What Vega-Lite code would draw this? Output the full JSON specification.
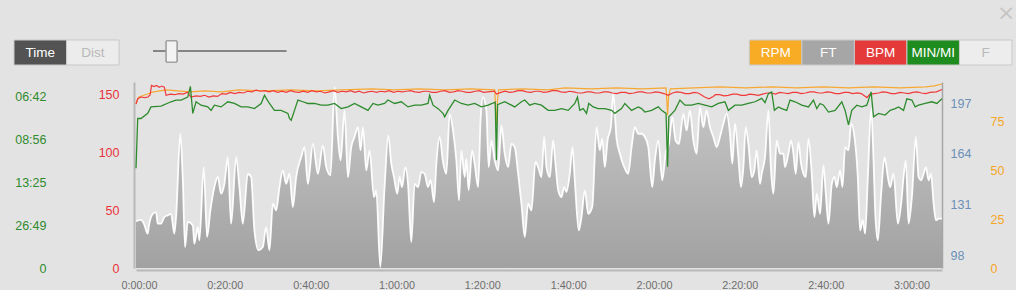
{
"$schema": "https://vega.github.io/schema/vega-lite/v6.json",
"background": "#e4e3e3",
"padding": {"left": 13, "top": 2, "right": 0, "bottom": 0},
"title": {"text": "×", "anchor": "end", "fontSize": 22, "color": "#c6c6c6", "fontWeight": "normal", "font": "DejaVu Sans", "offset": 14, "dx": 3},
"spacing": 15,
"config": {"font": "Liberation Sans", "view": {"stroke": null}},
"resolve": {"scale": {"x": "independent", "y": "independent", "color": "independent"}},
"datasets": {
"buttons": [{"button":"Time"},{"button":"Dist"},{"button":"RPM"},{"button":"FT"},{"button":"BPM"},{"button":"MIN/MI"},{"button":"F"}],
"elevation": [
{"min":0,"ft":120.6},{"min":1.17,"ft":121.3},{"min":1.87,"ft":118.7},{"min":2.73,"ft":112.4},{"min":3.03,"ft":118.0},{"min":3.9,"ft":125.3},{"min":4.67,"ft":126.4},{"min":5.06,"ft":118.9},{"min":5.83,"ft":118.9},{"min":6.6,"ft":123.2},{"min":7.39,"ft":124.3},{"min":8.16,"ft":125.3},{"min":8.93,"ft":112.4},{"min":9.33,"ft":123.2},{"min":10.33,"ft":177.1},{"min":10.89,"ft":149.1},{"min":11.43,"ft":103.8},{"min":12.06,"ft":120.0},{"min":13.23,"ft":117.8},{"min":13.6,"ft":105.9},{"min":14.39,"ft":116.7},{"min":14.77,"ft":108.1},{"min":15.79,"ft":155.5},{"min":16.56,"ft":110.3},{"min":17.33,"ft":127.5},{"min":18.26,"ft":142.6},{"min":19.06,"ft":149.1},{"min":19.83,"ft":138.3},{"min":20.6,"ft":144.7},{"min":21.39,"ft":162.0},{"min":22.16,"ft":118.9},{"min":23.33,"ft":162.0},{"min":24.1,"ft":142.6},{"min":24.89,"ft":118.9},{"min":26.06,"ft":151.2},{"min":26.83,"ft":149.1},{"min":27.59,"ft":114.6},{"min":28.53,"ft":101.7},{"min":29.55,"ft":103.8},{"min":30.32,"ft":116.7},{"min":31.09,"ft":101.7},{"min":31.89,"ft":131.8},{"min":32.66,"ft":127.5},{"min":33.43,"ft":142.6},{"min":34.22,"ft":153.4},{"min":34.99,"ft":144.7},{"min":35.76,"ft":151.2},{"min":36.55,"ft":129.7},{"min":37.32,"ft":149.1},{"min":38.49,"ft":162.0},{"min":39.26,"ft":168.5},{"min":40.05,"ft":144.7},{"min":41.22,"ft":170.6},{"min":42.38,"ft":151.2},{"min":43.55,"ft":169.6},{"min":44.32,"ft":155.5},{"min":45.32,"ft":150.2},{"min":46.26,"ft":207.3},{"min":47.05,"ft":175.0},{"min":47.66,"ft":159.9},{"min":48.59,"ft":192.2},{"min":49.38,"ft":149.1},{"min":50.15,"ft":168.5},{"min":50.92,"ft":175.0},{"min":51.71,"ft":181.4},{"min":52.32,"ft":166.4},{"min":52.88,"ft":181.4},{"min":53.65,"ft":153.4},{"min":54.42,"ft":166.4},{"min":55.45,"ft":136.1},{"min":55.98,"ft":140.5},{"min":56.92,"ft":90.8},{"min":57.92,"ft":142.6},{"min":58.78,"ft":176.1},{"min":59.48,"ft":157.7},{"min":60.11,"ft":149.1},{"min":60.88,"ft":138.3},{"min":61.42,"ft":149.1},{"min":61.98,"ft":142.6},{"min":62.75,"ft":155.5},{"min":63.38,"ft":144.7},{"min":64.15,"ft":107.0},{"min":64.92,"ft":144.7},{"min":65.71,"ft":142.6},{"min":66.48,"ft":152.3},{"min":67.25,"ft":151.2},{"min":68.04,"ft":142.6},{"min":68.65,"ft":147.0},{"min":69.44,"ft":132.9},{"min":69.98,"ft":157.7},{"min":70.75,"ft":175.0},{"min":71.54,"ft":158.8},{"min":72.31,"ft":151.2},{"min":73.08,"ft":190.0},{"min":73.87,"ft":179.3},{"min":74.64,"ft":159.9},{"min":75.27,"ft":134.0},{"min":75.81,"ft":166.4},{"min":76.58,"ft":149.1},{"min":76.98,"ft":160.9},{"min":77.51,"ft":140.5},{"min":78.31,"ft":166.4},{"min":78.91,"ft":157.7},{"min":79.71,"ft":142.6},{"min":80.31,"ft":187.9},{"min":80.87,"ft":200.8},{"min":81.64,"ft":192.2},{"min":82.18,"ft":155.5},{"min":82.81,"ft":172.8},{"min":83.58,"ft":159.9},{"min":84.37,"ft":153.4},{"min":85.14,"ft":182.5},{"min":85.91,"ft":164.2},{"min":86.7,"ft":155.5},{"min":87.47,"ft":170.6},{"min":88.24,"ft":168.5},{"min":89.04,"ft":151.2},{"min":89.81,"ft":131.8},{"min":90.58,"ft":110.3},{"min":91.37,"ft":131.8},{"min":92.14,"ft":127.5},{"min":93.07,"ft":158.8},{"min":93.7,"ft":155.5},{"min":94.47,"ft":149.1},{"min":95.1,"ft":175.0},{"min":95.64,"ft":155.5},{"min":96.41,"ft":149.1},{"min":97.2,"ft":172.8},{"min":97.74,"ft":157.7},{"min":98.37,"ft":140.5},{"min":99.14,"ft":136.1},{"min":99.77,"ft":142.6},{"min":100.3,"ft":139.4},{"min":101.07,"ft":151.2},{"min":101.7,"ft":168.5},{"min":102.24,"ft":147.0},{"min":103.17,"ft":114.6},{"min":103.8,"ft":123.2},{"min":104.57,"ft":140.5},{"min":105.36,"ft":125.3},{"min":106.3,"ft":129.7},{"min":107.3,"ft":181.4},{"min":108.07,"ft":166.4},{"min":108.63,"ft":173.9},{"min":109.24,"ft":155.5},{"min":109.87,"ft":172.8},{"min":110.64,"ft":181.4},{"min":111.2,"ft":203.0},{"min":111.97,"ft":173.9},{"min":112.74,"ft":164.2},{"min":113.76,"ft":155.5},{"min":114.69,"ft":151.2},{"min":115.47,"ft":168.5},{"min":116.23,"ft":181.4},{"min":117.03,"ft":177.1},{"min":117.8,"ft":177.1},{"min":118.57,"ft":175.0},{"min":119.36,"ft":168.5},{"min":120.29,"ft":142.6},{"min":120.9,"ft":159.9},{"min":121.7,"ft":172.8},{"min":122.63,"ft":147.0},{"min":123.4,"ft":164.2},{"min":124.17,"ft":170.6},{"min":124.96,"ft":187.9},{"min":125.73,"ft":172.8},{"min":126.5,"ft":170.6},{"min":127.53,"ft":190.0},{"min":128.29,"ft":179.3},{"min":129.06,"ft":192.2},{"min":129.86,"ft":172.8},{"min":130.63,"ft":164.2},{"min":131.4,"ft":194.4},{"min":132.19,"ft":181.4},{"min":132.96,"ft":192.2},{"min":133.73,"ft":181.4},{"min":134.52,"ft":175.0},{"min":135.29,"ft":168.5},{"min":136.06,"ft":175.0},{"min":136.85,"ft":183.6},{"min":137.62,"ft":190.0},{"min":138.4,"ft":177.1},{"min":138.95,"ft":157.7},{"min":139.56,"ft":183.6},{"min":140.35,"ft":162.0},{"min":140.96,"ft":142.6},{"min":141.52,"ft":155.5},{"min":142.06,"ft":181.4},{"min":142.69,"ft":170.6},{"min":143.46,"ft":149.1},{"min":144.08,"ft":153.4},{"min":144.62,"ft":166.4},{"min":145.39,"ft":144.7},{"min":145.79,"ft":151.2},{"min":146.56,"ft":162.0},{"min":147.35,"ft":192.2},{"min":147.96,"ft":153.4},{"min":148.52,"ft":138.3},{"min":149.29,"ft":172.8},{"min":150.06,"ft":164.2},{"min":150.85,"ft":164.2},{"min":151.22,"ft":155.5},{"min":152.02,"ft":164.2},{"min":152.62,"ft":172.8},{"min":153.18,"ft":164.2},{"min":153.72,"ft":151.2},{"min":154.35,"ft":171.7},{"min":154.96,"ft":157.7},{"min":155.52,"ft":151.2},{"min":156.06,"ft":149.1},{"min":156.68,"ft":173.9},{"min":157.45,"ft":151.2},{"min":158.08,"ft":123.2},{"min":158.62,"ft":138.3},{"min":159.39,"ft":125.3},{"min":160.18,"ft":156.6},{"min":160.72,"ft":138.3},{"min":161.35,"ft":118.9},{"min":162.12,"ft":144.7},{"min":162.75,"ft":149.1},{"min":163.28,"ft":142.6},{"min":164.05,"ft":153.4},{"min":164.61,"ft":142.6},{"min":165.22,"ft":168.5},{"min":166.01,"ft":166.4},{"min":166.62,"ft":183.6},{"min":167.41,"ft":175.0},{"min":168.18,"ft":149.1},{"min":168.72,"ft":114.6},{"min":169.35,"ft":121.1},{"min":169.89,"ft":112.4},{"min":170.52,"ft":149.1},{"min":171.29,"ft":193.3},{"min":171.85,"ft":159.9},{"min":172.22,"ft":127.5},{"min":172.85,"ft":108.1},{"min":173.62,"ft":138.3},{"min":174.41,"ft":162.0},{"min":175.18,"ft":149.1},{"min":175.72,"ft":142.6},{"min":176.51,"ft":151.2},{"min":177.51,"ft":118.9},{"min":178.28,"ft":131.8},{"min":178.84,"ft":149.1},{"min":179.38,"ft":159.9},{"min":180.01,"ft":118.9},{"min":180.78,"ft":136.1},{"min":181.71,"ft":175.0},{"min":182.34,"ft":149.1},{"min":182.95,"ft":147.0},{"min":183.51,"ft":151.2},{"min":184.05,"ft":155.5},{"min":184.68,"ft":147.0},{"min":185.22,"ft":151.2},{"min":185.85,"ft":131.8},{"min":186.38,"ft":121.1},{"min":187.08,"ft":122.1},{"min":187.78,"ft":122.1}
],
"heart": [
{"min":0,"bpm":142},{"min":0.4,"bpm":146.5},{"min":1.2,"bpm":148},{"min":2,"bpm":147.5},{"min":2.8,"bpm":148},{"min":3.3,"bpm":150},{"min":3.6,"bpm":158},{"min":4.2,"bpm":157},{"min":4.8,"bpm":158},{"min":5.4,"bpm":156.5},{"min":6,"bpm":157.5},{"min":6.6,"bpm":156.5},{"min":7,"bpm":149.5},{"min":8,"bpm":150.5},{"min":9,"bpm":150},{"min":10,"bpm":151},{"min":11,"bpm":150.5},{"min":12,"bpm":152.2},{"min":12.8,"bpm":148},{"min":14,"bpm":149},{"min":15,"bpm":148.5},{"min":16,"bpm":149.5},{"min":17,"bpm":148},{"min":18,"bpm":149},{"min":19,"bpm":148.5},{"min":20,"bpm":151},{"min":21,"bpm":150.5},{"min":22,"bpm":152},{"min":23,"bpm":151},{"min":24,"bpm":152},{"min":25,"bpm":151.5},{"min":26,"bpm":153},{"min":27,"bpm":152.5},{"min":28,"bpm":154},{"min":29,"bpm":153},{"min":30,"bpm":153.5},{"min":31,"bpm":152.5},{"min":32,"bpm":153.5},{"min":33,"bpm":152},{"min":34,"bpm":153},{"min":35,"bpm":152},{"min":36,"bpm":153.5},{"min":37,"bpm":152.5},{"min":38,"bpm":152},{"min":39,"bpm":153},{"min":40,"bpm":152},{"min":41,"bpm":153.5},{"min":42,"bpm":152.5},{"min":43,"bpm":153},{"min":44,"bpm":151.5},{"min":45,"bpm":152.5},{"min":46,"bpm":153.5},{"min":47,"bpm":152},{"min":48,"bpm":153},{"min":49,"bpm":152.5},{"min":50,"bpm":153.5},{"min":51,"bpm":152},{"min":52,"bpm":153},{"min":53,"bpm":151.5},{"min":54,"bpm":152.5},{"min":55,"bpm":153},{"min":56,"bpm":152},{"min":57,"bpm":153},{"min":58,"bpm":152.5},{"min":59,"bpm":153.5},{"min":60,"bpm":152},{"min":61,"bpm":153},{"min":62,"bpm":152.5},{"min":63,"bpm":153},{"min":64,"bpm":153.5},{"min":65,"bpm":152.5},{"min":66,"bpm":152},{"min":67,"bpm":153},{"min":68,"bpm":153},{"min":69,"bpm":152},{"min":70,"bpm":152},{"min":71,"bpm":153},{"min":72,"bpm":153.5},{"min":73,"bpm":152},{"min":74,"bpm":152.5},{"min":75,"bpm":153.5},{"min":76,"bpm":153},{"min":77,"bpm":152},{"min":78,"bpm":152},{"min":79,"bpm":153},{"min":80,"bpm":153.5},{"min":81,"bpm":152},{"min":82,"bpm":152.5},{"min":83.5,"bpm":153},{"min":84,"bpm":150.5},{"min":85,"bpm":152},{"min":86,"bpm":153},{"min":87,"bpm":152},{"min":88,"bpm":152.5},{"min":89,"bpm":153.5},{"min":90,"bpm":153.5},{"min":91,"bpm":152.5},{"min":92,"bpm":152},{"min":93,"bpm":153},{"min":94,"bpm":153},{"min":95,"bpm":152},{"min":96,"bpm":152.5},{"min":97,"bpm":153.5},{"min":98,"bpm":153.5},{"min":99,"bpm":152.5},{"min":100,"bpm":152},{"min":101,"bpm":153},{"min":102,"bpm":152.5},{"min":103,"bpm":151.5},{"min":104,"bpm":151.5},{"min":105,"bpm":152.5},{"min":106,"bpm":152.5},{"min":107,"bpm":151.5},{"min":108,"bpm":151.5},{"min":109,"bpm":152.5},{"min":110,"bpm":152.5},{"min":111,"bpm":151.5},{"min":112,"bpm":151},{"min":113,"bpm":152},{"min":114,"bpm":152},{"min":115,"bpm":151},{"min":116,"bpm":151.5},{"min":117,"bpm":152.5},{"min":118,"bpm":152.5},{"min":119,"bpm":151.5},{"min":120,"bpm":151.5},{"min":121,"bpm":152.5},{"min":122,"bpm":152},{"min":123,"bpm":151},{"min":124,"bpm":149.5},{"min":125,"bpm":151.5},{"min":126,"bpm":152.5},{"min":127,"bpm":152},{"min":128,"bpm":151},{"min":129,"bpm":151},{"min":130,"bpm":152},{"min":131,"bpm":151.5},{"min":132.5,"bpm":148},{"min":133.5,"bpm":146.5},{"min":134.5,"bpm":148.5},{"min":135,"bpm":150},{"min":136,"bpm":150},{"min":137,"bpm":149},{"min":138,"bpm":149.5},{"min":139,"bpm":150.5},{"min":140,"bpm":150.5},{"min":141,"bpm":149.5},{"min":142,"bpm":149.5},{"min":143,"bpm":150.5},{"min":144,"bpm":150},{"min":145,"bpm":149.5},{"min":146,"bpm":150.5},{"min":147,"bpm":151.5},{"min":148,"bpm":151.5},{"min":149,"bpm":150.5},{"min":150,"bpm":152},{"min":151,"bpm":151.5},{"min":152,"bpm":151},{"min":153,"bpm":152},{"min":154,"bpm":152},{"min":155,"bpm":151},{"min":156,"bpm":151.5},{"min":157,"bpm":152.5},{"min":158,"bpm":152.5},{"min":159,"bpm":151.5},{"min":160,"bpm":151.5},{"min":161,"bpm":152.5},{"min":162,"bpm":152},{"min":163,"bpm":151},{"min":164,"bpm":151},{"min":165,"bpm":152},{"min":166,"bpm":152},{"min":167,"bpm":151},{"min":168,"bpm":151.5},{"min":169,"bpm":151},{"min":170.3,"bpm":147.5},{"min":171,"bpm":150.5},{"min":172,"bpm":151},{"min":173,"bpm":151.5},{"min":174,"bpm":152.5},{"min":175,"bpm":152},{"min":176,"bpm":151},{"min":177,"bpm":151},{"min":178,"bpm":152},{"min":179,"bpm":151.5},{"min":180,"bpm":151},{"min":181,"bpm":152},{"min":182,"bpm":152.5},{"min":183,"bpm":151.5},{"min":184,"bpm":151},{"min":185,"bpm":152},{"min":186.5,"bpm":152.5},{"min":187.8,"bpm":154.5}
],
"cadence": [
{"min":0,"rpm":83.8},{"min":0.6,"rpm":87.2},{"min":1.5,"rpm":88},{"min":2.7,"rpm":88.9},{"min":3.8,"rpm":89.8},{"min":7,"rpm":91},{"min":12.5,"rpm":90},{"min":16,"rpm":90.5},{"min":20,"rpm":90},{"min":24,"rpm":91},{"min":30,"rpm":90.5},{"min":36,"rpm":91},{"min":42,"rpm":90.5},{"min":48,"rpm":91},{"min":55,"rpm":91.5},{"min":60,"rpm":91},{"min":66,"rpm":91.5},{"min":72,"rpm":91},{"min":78,"rpm":91.5},{"min":83.6,"rpm":91},{"min":83.8,"rpm":80},{"min":84,"rpm":73},{"min":84.2,"rpm":85},{"min":84.5,"rpm":91},{"min":90,"rpm":91.5},{"min":96,"rpm":91},{"min":100,"rpm":92},{"min":106,"rpm":91.5},{"min":112,"rpm":92},{"min":118,"rpm":91.5},{"min":123.5,"rpm":92},{"min":123.7,"rpm":85},{"min":123.86,"rpm":78},{"min":124.1,"rpm":88},{"min":124.5,"rpm":91.5},{"min":130,"rpm":92},{"min":136,"rpm":92.5},{"min":142,"rpm":92},{"min":148,"rpm":92.5},{"min":154,"rpm":92},{"min":160,"rpm":92.5},{"min":166,"rpm":92},{"min":172,"rpm":92.5},{"min":178,"rpm":92},{"min":184,"rpm":92.5},{"min":186,"rpm":93},{"min":187.8,"rpm":94}
],
"pace": [
{"min":0,"mps":2.32},{"min":0.4,"mps":3.48},{"min":1.17,"mps":3.48},{"min":2.73,"mps":3.6},{"min":3.5,"mps":3.75},{"min":5.83,"mps":3.77},{"min":8.16,"mps":3.87},{"min":9.33,"mps":3.91},{"min":10.5,"mps":3.91},{"min":12.06,"mps":3.98},{"min":12.67,"mps":4.23},{"min":13.23,"mps":3.6},{"min":14.0,"mps":3.87},{"min":15.16,"mps":3.79},{"min":16.72,"mps":3.75},{"min":17.49,"mps":3.67},{"min":18.26,"mps":3.79},{"min":19.83,"mps":3.75},{"min":21.39,"mps":3.87},{"min":22.93,"mps":3.83},{"min":24.49,"mps":3.75},{"min":26.06,"mps":3.75},{"min":27.59,"mps":3.71},{"min":29.16,"mps":3.83},{"min":29.93,"mps":4.02},{"min":31.09,"mps":3.83},{"min":32.26,"mps":3.67},{"min":33.82,"mps":3.67},{"min":35.39,"mps":3.6},{"min":35.76,"mps":3.48},{"min":36.16,"mps":3.44},{"min":36.93,"mps":3.67},{"min":37.72,"mps":3.91},{"min":38.88,"mps":3.87},{"min":40.05,"mps":3.83},{"min":41.59,"mps":3.83},{"min":43.15,"mps":3.79},{"min":44.72,"mps":3.79},{"min":46.26,"mps":3.83},{"min":47.82,"mps":3.71},{"min":49.38,"mps":3.75},{"min":50.92,"mps":3.83},{"min":52.48,"mps":3.75},{"min":54.05,"mps":3.67},{"min":55.21,"mps":3.83},{"min":56.38,"mps":3.79},{"min":57.92,"mps":3.83},{"min":58.71,"mps":3.91},{"min":60.25,"mps":3.83},{"min":61.81,"mps":3.87},{"min":63.38,"mps":3.75},{"min":64.92,"mps":3.79},{"min":66.48,"mps":3.79},{"min":68.04,"mps":3.83},{"min":68.42,"mps":4.02},{"min":69.21,"mps":3.79},{"min":70.38,"mps":3.71},{"min":71.54,"mps":3.6},{"min":71.92,"mps":3.52},{"min":72.71,"mps":3.67},{"min":74.25,"mps":3.91},{"min":75.81,"mps":3.83},{"min":77.37,"mps":3.79},{"min":78.91,"mps":3.83},{"min":80.47,"mps":3.75},{"min":82.04,"mps":3.79},{"min":83.7,"mps":3.86},{"min":83.98,"mps":2.51},{"min":84.25,"mps":3.8},{"min":85.91,"mps":3.87},{"min":87.47,"mps":3.79},{"min":88.24,"mps":3.75},{"min":89.81,"mps":3.87},{"min":90.58,"mps":3.91},{"min":91.74,"mps":3.79},{"min":92.91,"mps":3.83},{"min":94.47,"mps":3.79},{"min":96.03,"mps":3.67},{"min":97.57,"mps":3.67},{"min":99.14,"mps":3.71},{"min":100.7,"mps":3.67},{"min":102.24,"mps":3.83},{"min":102.87,"mps":3.98},{"min":103.4,"mps":3.67},{"min":104.2,"mps":3.71},{"min":104.97,"mps":3.6},{"min":105.5,"mps":3.83},{"min":106.53,"mps":3.75},{"min":107.7,"mps":3.71},{"min":109.24,"mps":3.71},{"min":110.8,"mps":3.67},{"min":111.57,"mps":3.6},{"min":113.13,"mps":3.71},{"min":113.9,"mps":3.83},{"min":115.47,"mps":3.67},{"min":117.03,"mps":3.75},{"min":117.8,"mps":3.71},{"min":118.57,"mps":3.63},{"min":120.13,"mps":3.67},{"min":121.7,"mps":3.75},{"min":122.47,"mps":3.67},{"min":123.5,"mps":3.6},{"min":123.86,"mps":2.36},{"min":124.15,"mps":3.52},{"min":125.57,"mps":3.67},{"min":126.74,"mps":3.91},{"min":127.9,"mps":3.79},{"min":129.46,"mps":3.79},{"min":131.03,"mps":3.83},{"min":132.56,"mps":3.79},{"min":134.13,"mps":3.75},{"min":135.69,"mps":3.83},{"min":137.23,"mps":3.87},{"min":138.02,"mps":3.67},{"min":139.56,"mps":3.79},{"min":141.12,"mps":3.79},{"min":142.69,"mps":3.83},{"min":144.23,"mps":3.87},{"min":145.79,"mps":3.95},{"min":146.56,"mps":3.85},{"min":147.35,"mps":4.06},{"min":148.12,"mps":4.1},{"min":148.75,"mps":3.67},{"min":149.68,"mps":3.75},{"min":150.45,"mps":3.71},{"min":151.62,"mps":3.67},{"min":152.39,"mps":3.91},{"min":153.56,"mps":3.87},{"min":155.12,"mps":3.79},{"min":156.68,"mps":3.75},{"min":157.85,"mps":3.91},{"min":158.62,"mps":3.71},{"min":159.39,"mps":3.83},{"min":160.18,"mps":3.79},{"min":161.35,"mps":3.63},{"min":162.89,"mps":3.67},{"min":164.45,"mps":3.87},{"min":165.22,"mps":3.67},{"min":166.01,"mps":3.33},{"min":166.78,"mps":3.67},{"min":167.95,"mps":3.79},{"min":169.12,"mps":3.75},{"min":170.28,"mps":3.79},{"min":171.29,"mps":4.1},{"min":171.85,"mps":3.52},{"min":173.02,"mps":3.6},{"min":174.56,"mps":3.56},{"min":175.72,"mps":3.67},{"min":176.89,"mps":3.71},{"min":177.68,"mps":3.75},{"min":178.84,"mps":3.67},{"min":179.61,"mps":3.94},{"min":180.78,"mps":3.91},{"min":181.55,"mps":3.75},{"min":182.34,"mps":3.79},{"min":183.88,"mps":3.83},{"min":185.44,"mps":3.87},{"min":186.61,"mps":3.83},{"min":187.78,"mps":3.94}
]
},
"vconcat": [
{
"width": 806, "height": 25,
"data": {"name": "buttons"},
"encoding": {"x": {"field": "button", "type": "nominal", "sort": null, "axis": null,
  "scale": {"domain": ["Time","Dist","g1","g2","g3","g4","g5","g6","g7","g8","g9","g10","g11","g12","RPM","FT","BPM","MIN/MI","F"], "range": [-122, 876], "paddingInner": 0, "paddingOuter": 0}}},
"layer": [
 {"mark": {"type": "bar", "stroke": "#c9c9c9", "strokeWidth": 1, "clip": false},
  "encoding": {"color": {"field": "button", "type": "nominal", "legend": null,
    "scale": {"domain": ["Time","Dist","RPM","FT","BPM","MIN/MI","F"], "range": ["#535353","#ececec","#f8ab24","#a6a6a6","#e53a3a","#1f8c1f","#ededed"]}}}},
 {"mark": {"type": "text", "fontSize": 13.5, "clip": false},
  "encoding": {"text": {"field": "button"},
    "color": {"condition": {"test": "datum.button === 'Dist' || datum.button === 'F'", "value": "#b9b9b9"}, "value": "#ffffff"}}},
 {"mark": {"type": "rule", "color": "#858585", "strokeWidth": 2, "clip": false},
  "encoding": {"x": {"datum": "g1", "bandPosition": 0.65}, "x2": {"datum": "g4", "bandPosition": 0.18},
    "y": {"datum": 0.56, "type": "quantitative", "scale": {"domain": [0, 1], "nice": false}, "axis": null}}},
 {"mark": {"type": "point", "shape": "M-0.5,-1L0.5,-1L0.5,1L-0.5,1Z", "size": 441, "filled": true, "fill": "#f3f3f3", "stroke": "#a2a2a2", "strokeWidth": 1, "opacity": 1, "clip": false},
  "encoding": {"x": {"datum": "g2", "bandPosition": 0},
    "y": {"datum": 0.54, "type": "quantitative", "scale": {"domain": [0, 1], "nice": false}, "axis": null}}}
]
},
{
"width": 806, "height": 186,
"resolve": {"scale": {"y": "independent"}, "axis": {"y": "independent"}},
"encoding": {"x": {"field": "min", "type": "quantitative",
  "scale": {"domain": [0, 187.8], "nice": false, "zero": false},
  "axis": {"values": [0,20,40,60,80,100,120,140,160,180], "labelExpr": "floor(datum.value/60) + ':' + format(datum.value % 60, '02d') + ':00'", "grid": false, "ticks": false, "domainColor": "#b8b8b8", "domainWidth": 2, "offset": 2, "labelColor": "#6e6e6e", "labelFontSize": 10.8, "labelPadding": 9, "labelFlush": false, "labelOffset": 3, "title": null}}},
"layer": [
 {"data": {"name": "elevation"},
  "mark": {"type": "area", "interpolate": "monotone",
    "fill": {"gradient": "linear", "x1": 0, "y1": 0, "x2": 0, "y2": 1, "stops": [{"offset": 0, "color": "#bdbdbd"}, {"offset": 1, "color": "#858585"}]},
    "line": {"color": "#ffffff", "strokeWidth": 1.8, "opacity": 0.95}},
  "encoding": {"y": {"field": "ft", "type": "quantitative", "scale": {"domain": [90.2, 210.6], "nice": false, "zero": false},
     "axis": {"orient": "right", "values": [98,131,164,197], "title": null, "grid": false, "ticks": false, "domain": true, "domainColor": "#a5a5a5", "domainWidth": 1.5, "labelColor": "#6b91b8", "labelFontSize": 12.5, "labelPadding": 8}},
   "y2": {"datum": 90.2}}},
 {"data": {"name": "cadence"},
  "mark": {"type": "line", "color": "#f7a833", "strokeWidth": 1.2},
  "encoding": {"y": {"field": "rpm", "type": "quantitative", "scale": {"domain": [0, 95], "nice": false},
     "axis": {"orient": "right", "offset": 40, "values": [0,25,50,75], "title": null, "grid": false, "ticks": false, "domain": false, "labelColor": "#f5a623", "labelFontSize": 12.5, "labelPadding": 8}}}},
 {"data": {"name": "heart"},
  "mark": {"type": "line", "color": "#f03a3a", "strokeWidth": 1.2},
  "encoding": {"y": {"field": "bpm", "type": "quantitative", "scale": {"domain": [0, 161], "nice": false},
     "axis": {"orient": "left", "offset": 2, "values": [0,50,100,150], "title": null, "grid": false, "ticks": false, "domain": true, "domainColor": "#b8b8b8", "domainWidth": 2, "labelColor": "#e8333a", "labelFontSize": 12.5, "labelPadding": 15}}}},
 {"data": {"name": "pace"},
  "mark": {"type": "line", "color": "#2d8b2d", "strokeWidth": 1.3},
  "encoding": {"y": {"field": "mps", "type": "quantitative", "scale": {"domain": [0, 4.33], "nice": false},
     "axis": {"orient": "left", "offset": 75, "values": [0,1,2,3,4], "labelExpr": "datum.value == 0 ? '0' : format(floor(round(1609.344/datum.value)/60), '02d') + ':' + format(round(1609.344/datum.value) % 60, '02d')", "title": null, "grid": false, "ticks": false, "domain": false, "labelColor": "#2e8b2e", "labelFontSize": 12.5, "labelPadding": 15}}}}
]
}
]
}
